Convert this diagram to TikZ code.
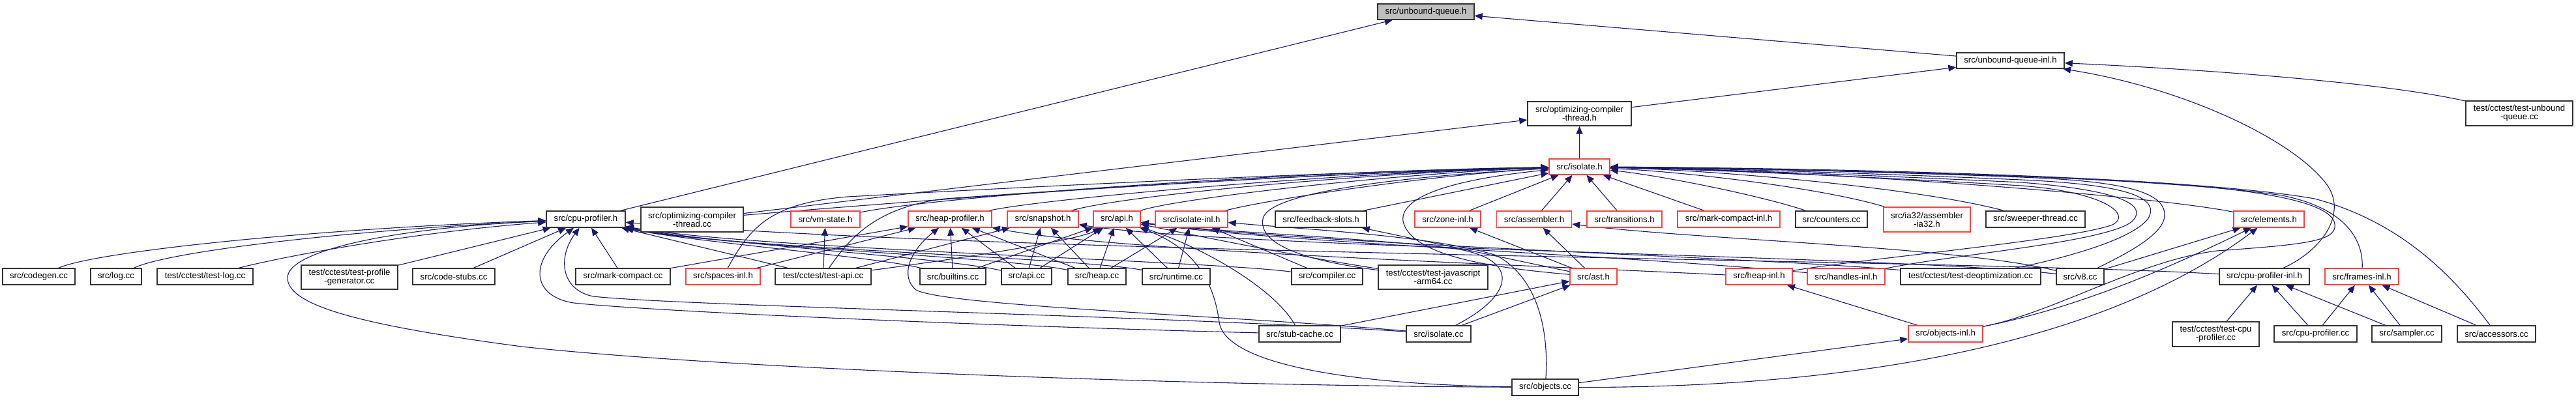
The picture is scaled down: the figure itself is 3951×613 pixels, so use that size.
\documentclass[tikz,border=0pt]{standalone}
\usepackage{fontspec}
\setmainfont{Liberation Sans}
\usetikzlibrary{arrows.meta}
\definecolor{edgeblue}{HTML}{191970}
\definecolor{boxred}{HTML}{FF4040}
\definecolor{boxgray}{HTML}{BFBFBF}
\pgfdeclarelayer{edgelayer}
\pgfsetlayers{edgelayer,main}
\newcommand\mkn[6]{\node[#1, minimum width=#4pt, minimum height=#5pt] (#2) at (#3) {#6};}
\tikzset{
  box/.style={draw=black!80, line width=1.4pt, inner sep=0pt, align=center, fill=white,
    font=\fontsize{13.2}{13}\selectfont},
  rbox/.style={box, draw=boxred},
  gbox/.style={box, fill=boxgray},
  e/.style={draw=edgeblue, line width=1.1pt, -{Triangle[length=12pt,width=10pt]}},
}
\begin{document}
\begin{tikzpicture}[x=1pt,y=-1pt]
\begin{pgfonlayer}{edgelayer}
\fill[white] (0,0) rectangle (3951,613);
\end{pgfonlayer}
\useasboundingbox (0,0) rectangle (3951,613);
% ---------------- nodes ----------------
\mkn{gbox}{UQ}{2187,18}{148}{24}{src/unbound-queue.h}
\mkn{box}{UQI}{3083.5,93}{165}{24}{src/unbound-queue-inl.h}
\mkn{box}{OCTH}{2422.5,174.5}{159}{37}{src/optimizing-compiler\\-thread.h}
\mkn{box}{TUQ}{3864,174}{164}{38}{test/cctest/test-unbound\\-queue.cc}
\mkn{rbox}{ISO}{2422.5,256}{93}{24}{src/isolate.h}
% row A
\mkn{box}{CPH}{898.5,336.5}{121}{25}{src/cpu-profiler.h}
\mkn{box}{OCTC}{1061.5,337}{157}{38}{src/optimizing-compiler\\-thread.cc}
\mkn{rbox}{VMS}{1266,336.5}{106}{25}{src/vm-state.h}
\mkn{rbox}{HP}{1457,336.5}{128}{25}{src/heap-profiler.h}
\mkn{rbox}{SNAP}{1599.5,336.5}{109}{25}{src/snapshot.h}
\mkn{rbox}{APIH}{1713,336.5}{72}{25}{src/api.h}
\mkn{rbox}{ISOI}{1827.5,336.5}{111}{25}{src/isolate-inl.h}
\mkn{box}{FBS}{2026,336.5}{140}{25}{src/feedback-slots.h}
\mkn{rbox}{ZONE}{2220.5,336.5}{101}{25}{src/zone-inl.h}
\mkn{rbox}{ASM}{2353,336.5}{115}{25}{src/assembler.h}
\mkn{rbox}{TRANS}{2491.5,336.5}{115}{25}{src/transitions.h}
\mkn{rbox}{MCI}{2651.5,336.5}{157}{25}{src/mark-compact-inl.h}
\mkn{box}{CNT}{2809,336.5}{110}{25}{src/counters.cc}
\mkn{rbox}{IA32}{2955.5,337}{133}{38}{src/ia32/assembler\\-ia32.h}
\mkn{box}{SWT}{3122,336.5}{152}{25}{src/sweeper-thread.cc}
\mkn{rbox}{ELEM}{3480,336.5}{108}{25}{src/elements.h}
% row B
\mkn{box}{CODEGEN}{59.5,424.5}{111}{25}{src/codegen.cc}
\mkn{box}{LOG}{178,424.5}{78}{25}{src/log.cc}
\mkn{box}{TLOG}{314.5,424.5}{147}{25}{test/cctest/test-log.cc}
\mkn{box}{TPG}{536,425.5}{148}{37}{test/cctest/test-profile\\-generator.cc}
\mkn{box}{CSTUBS}{696,424.5}{126}{25}{src/code-stubs.cc}
\mkn{box}{MCC}{955.5,424.5}{145}{25}{src/mark-compact.cc}
\mkn{rbox}{SPI}{1109,424.5}{114}{25}{src/spaces-inl.h}
\mkn{box}{TAPI}{1262.5,424.5}{147}{25}{test/cctest/test-api.cc}
\mkn{box}{BLT}{1461.5,424.5}{101}{25}{src/builtins.cc}
\mkn{box}{APICC}{1574.5,424.5}{77}{25}{src/api.cc}
\mkn{box}{HEAPCC}{1682.5,424.5}{89}{25}{src/heap.cc}
\mkn{box}{RT}{1804,424.5}{104}{25}{src/runtime.cc}
\mkn{box}{COMP}{2035.5,424.5}{109}{25}{src/compiler.cc}
\mkn{box}{TJS}{2198,425.5}{168}{37}{test/cctest/test-javascript\\-arm64.cc}
\mkn{rbox}{AST}{2444,424.5}{72}{25}{src/ast.h}
\mkn{rbox}{HEAPI}{2698,424.5}{102}{25}{src/heap-inl.h}
\mkn{rbox}{HANDI}{2831.5,424.5}{119}{25}{src/handles-inl.h}
\mkn{box}{TDEOPT}{3022.5,424.5}{215}{25}{test/cctest/test-deoptimization.cc}
\mkn{box}{V8}{3190.5,424.5}{73}{25}{src/v8.cc}
\mkn{box}{CPI}{3473,424.5}{138}{25}{src/cpu-profiler-inl.h}
\mkn{rbox}{FRI}{3622.5,424.5}{113}{25}{src/frames-inl.h}
% row C
\mkn{box}{STUB}{1993.5,512.5}{125}{25}{src/stub-cache.cc}
\mkn{box}{ISOCC}{2206.5,512.5}{99}{25}{src/isolate.cc}
\mkn{rbox}{OBJI}{2984,512.5}{114}{25}{src/objects-inl.h}
\mkn{box}{TCPU}{3398.5,513}{133}{38}{test/cctest/test-cpu\\-profiler.cc}
\mkn{box}{CPCC}{3551.5,512.5}{127}{25}{src/cpu-profiler.cc}
\mkn{box}{SAMP}{3691.5,512.5}{107}{25}{src/sampler.cc}
\mkn{box}{ACC}{3829,512.5}{120}{25}{src/accessors.cc}
% row D
\mkn{box}{OBJ}{2370,594.5}{102}{25}{src/objects.cc}
% ---------------- edges ----------------
\begin{pgfonlayer}{edgelayer}
% top part
\draw[e] (CPH) -- (UQ);
\draw[e] (UQI) -- (UQ);
\draw[e] (OCTH) -- (UQI);
\draw[e] (TUQ) .. controls (3650,125) and (3350,105) .. (UQI);
\draw[e] (CPI) .. controls (3560,385) and (3600,330) .. (3570,285) .. controls (3520,215) and (3350,135) .. (UQI);
\draw[e] (ISO) -- (OCTH);
\draw[e] (OCTC) -- (OCTH);
% into isolate.h from row A
\draw[e] (OCTC) .. controls (1500,300) and (2000,265) .. (ISO);
\draw[e] (VMS) .. controls (1450,300) and (2000,262) .. (ISO);
\draw[e] (HP) .. controls (1600,305) and (2050,265) .. (ISO);
\draw[e] (SNAP) .. controls (1720,300) and (2100,265) .. (ISO);
\draw[e] (APIH) .. controls (1800,305) and (2150,265) .. (ISO);
\draw[e] (ISOI) .. controls (1950,305) and (2200,268) .. (ISO);
\draw[e] (FBS) -- (ISO);
\draw[e] (ZONE) -- (ISO);
\draw[e] (ASM) -- (ISO);
\draw[e] (TRANS) -- (ISO);
\draw[e] (MCI) -- (ISO);
\draw[e] (CNT) .. controls (2700,300) and (2550,270) .. (ISO);
\draw[e] (IA32) .. controls (2800,290) and (2600,265) .. (ISO);
\draw[e] (SWT) .. controls (2950,290) and (2650,262) .. (ISO);
\draw[e] (ELEM) .. controls (3300,300) and (2800,262) .. (ISO);
% into isolate.h from lower rows
\draw[e] (SPI) .. controls (1150,350) and (1180,312) .. (1300,302) .. controls (1700,280) and (2100,262) .. (ISO);
\draw[e] (TAPI) .. controls (1300,370) and (1340,318) .. (1450,305) .. controls (1800,280) and (2100,264) .. (ISO);
\draw[e] (TJS) .. controls (2000,400) and (1930,375) .. (1937,336) .. controls (1945,290) and (2200,268) .. (ISO);
\draw[e] (AST) .. controls (2300,412) and (2165,395) .. (2152,340) .. controls (2145,295) and (2260,272) .. (ISO);
\draw[e] (HEAPI) .. controls (2850,398) and (3180,368) .. (3240,345) .. controls (3270,330) and (3230,295) .. (3100,285) .. controls (2850,270) and (2600,260) .. (ISO);
\draw[e] (HANDI) .. controls (3000,390) and (3230,372) .. (3270,340) .. controls (3300,310) and (3230,290) .. (3100,280) .. controls (2850,268) and (2600,259) .. (ISO);
\draw[e] (TDEOPT) .. controls (3150,400) and (3270,370) .. (3295,335) .. controls (3315,300) and (3250,283) .. (3100,276) .. controls (2850,265) and (2600,258) .. (ISO);
\draw[e] (V8) .. controls (3260,390) and (3320,360) .. (3320,330) .. controls (3320,295) and (3260,278) .. (3100,272) .. controls (2850,262) and (2600,257) .. (ISO);
\draw[e] (OBJI) .. controls (3150,480) and (3280,400) .. (3400,385) .. controls (3540,375) and (3590,370) .. (3580,340) .. controls (3560,290) and (3300,275) .. (3000,268) .. controls (2800,262) and (2600,257) .. (ISO);
\draw[e] (FRI) .. controls (3625,370) and (3600,320) .. (3500,300) .. controls (3300,270) and (2800,260) .. (ISO);
\draw[e] (ACC) .. controls (3760,420) and (3680,340) .. (3550,305) .. controls (3350,270) and (2800,258) .. (ISO);
% cpu-profiler.h
\draw[e] (CODEGEN) .. controls (150,385) and (500,350) .. (CPH);
\draw[e] (LOG) .. controls (260,385) and (550,352) .. (CPH);
\draw[e] (TLOG) .. controls (450,390) and (650,355) .. (CPH);
\draw[e] (TPG) -- (CPH);
\draw[e] (CSTUBS) -- (CPH);
\draw[e] (MCC) -- (CPH);
\draw[e] (OBJ) .. controls (1800,592) and (1100,565) .. (800,532) .. controls (560,500) and (440,470) .. (441,426) .. controls (442,385) and (600,350) .. (CPH);
\draw[e] (STUB) .. controls (1500,500) and (1000,478) .. (880,465) .. controls (815,455) and (810,400) .. (CPH);
\draw[e] (ISOCC) .. controls (1800,485) and (1050,470) .. (910,455) .. controls (860,445) and (855,395) .. (CPH);
\draw[e] (TAPI) -- (CPH);
\draw[e] (BLT) .. controls (1350,395) and (1050,370) .. (CPH);
\draw[e] (APICC) .. controls (1450,395) and (1100,375) .. (CPH);
\draw[e] (HEAPCC) .. controls (1550,395) and (1100,378) .. (CPH);
\draw[e] (RT) .. controls (1650,395) and (1100,380) .. (CPH);
\draw[e] (COMP) .. controls (1850,400) and (1150,382) .. (CPH);
\draw[e] (CPI) .. controls (3000,398) and (1600,392) .. (CPH);
% heap-profiler.h
\draw[e] (MCC) -- (HP);
\draw[e] (SPI) -- (HP);
\draw[e] (BLT) -- (HP);
\draw[e] (APICC) -- (HP);
\draw[e] (HEAPCC) -- (HP);
\draw[e] (ISOCC) .. controls (1900,485) and (1450,470) .. (1405,445) .. controls (1380,425) and (1395,385) .. (HP);
\draw[e] (HEAPI) .. controls (2300,405) and (1700,385) .. (HP);
% snapshot.h
\draw[e] (TAPI) -- (SNAP);
\draw[e] (APICC) -- (SNAP);
\draw[e] (HEAPCC) -- (SNAP);
\draw[e] (V8) .. controls (2900,392) and (1900,382) .. (SNAP);
% api.h
\draw[e] (TAPI) .. controls (1450,400) and (1650,370) .. (APIH);
\draw[e] (BLT) -- (APIH);
\draw[e] (APICC) -- (APIH);
\draw[e] (HEAPCC) -- (APIH);
\draw[e] (RT) -- (APIH);
\draw[e] (STUB) .. controls (1960,450) and (1860,385) .. (APIH);
\draw[e] (OBJ) .. controls (2050,590) and (1880,555) .. (1870,495) .. controls (1862,430) and (1830,380) .. (APIH);
\draw[e] (TJS) .. controls (2000,395) and (1850,365) .. (APIH);
\draw[e] (HANDI) .. controls (2500,392) and (1950,372) .. (APIH);
\draw[e] (TDEOPT) .. controls (2700,395) and (2000,375) .. (APIH);
\draw[e] (ISOCC) .. controls (2320,455) and (2340,395) .. (2220,380) .. controls (2050,362) and (1850,355) .. (APIH);
% isolate-inl.h
\draw[e] (HEAPCC) -- (ISOI);
\draw[e] (RT) -- (ISOI);
\draw[e] (COMP) -- (ISOI);
\draw[e] (OBJ) .. controls (2375,520) and (2365,430) .. (2295,392) .. controls (2200,362) and (2000,352) .. (ISOI);
% others
\draw[e] (TAPI) -- (VMS);
\draw[e] (AST) -- (FBS);
\draw[e] (AST) -- (ZONE);
\draw[e] (AST) -- (ASM);
\draw[e] (V8) .. controls (3000,378) and (2600,368) .. (ASM);
\draw[e] (STUB) -- (AST);
\draw[e] (ISOCC) -- (AST);
\draw[e] (OBJI) -- (HEAPI);
\draw[e] (OBJ) -- (OBJI);
\draw[e] (V8) -- (ELEM);
\draw[e] (OBJI) .. controls (3200,470) and (3350,400) .. (ELEM);
\draw[e] (OBJ) .. controls (2900,595) and (3250,510) .. (ELEM);
\draw[e] (TCPU) -- (CPI);
\draw[e] (CPCC) -- (CPI);
\draw[e] (SAMP) -- (CPI);
\draw[e] (CPCC) -- (FRI);
\draw[e] (SAMP) -- (FRI);
\draw[e] (ACC) -- (FRI);
\end{pgfonlayer}
\end{tikzpicture}
\end{document}
